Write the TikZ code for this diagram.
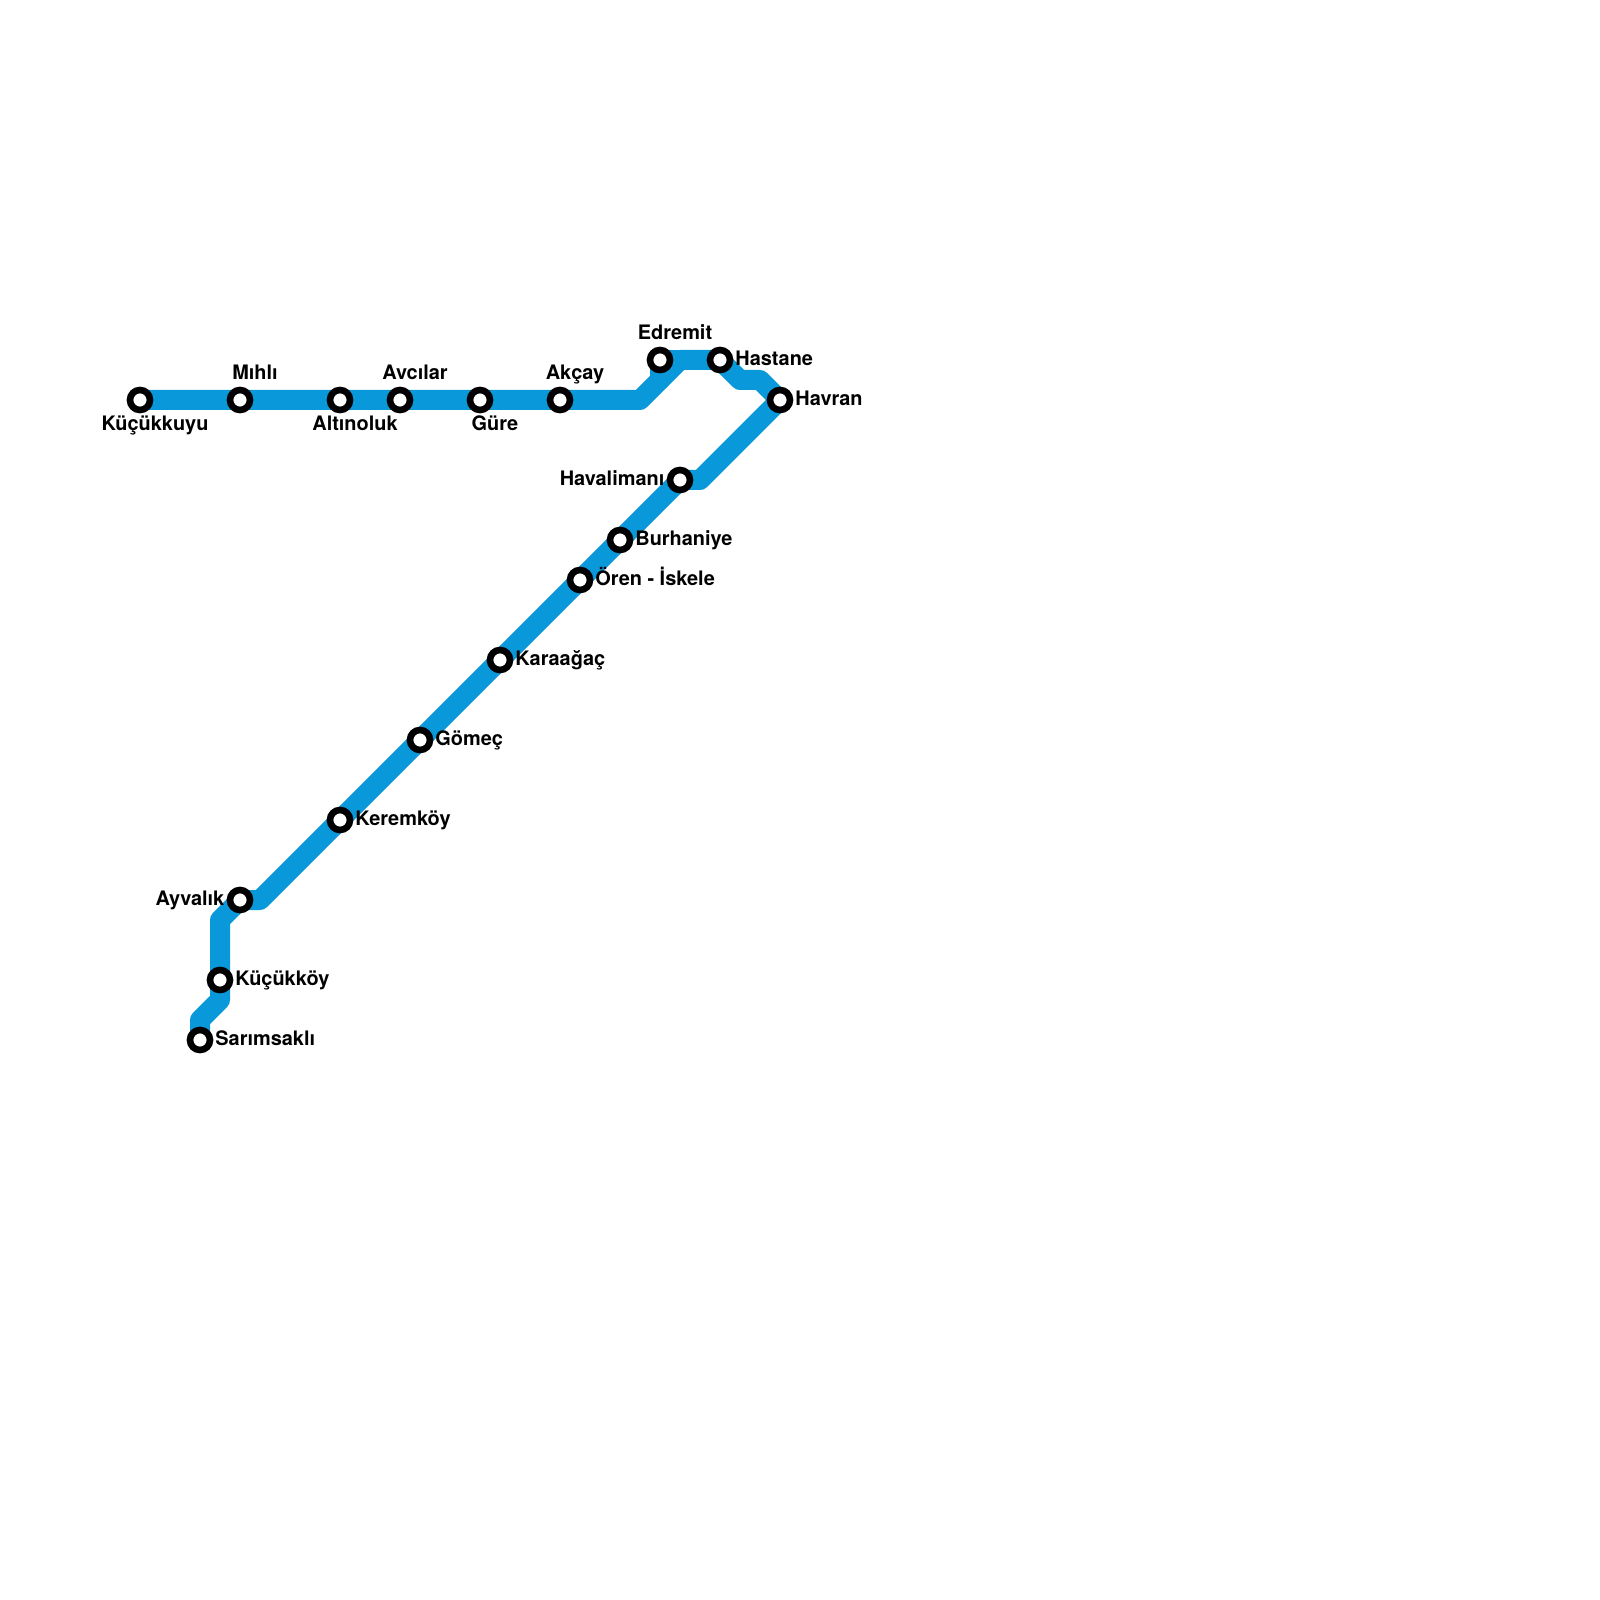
\documentclass[tikz,border=0pt]{standalone}
\usepackage{fontspec}
\setmainfont{TeX Gyre Heros}
\usepackage{xcolor}
\usepackage{tikz}
\usetikzlibrary{positioning}
\definecolor{LineBlue}{RGB}{9,152,217}

\begin{document}
\begin{tikzpicture}[
 station/.style={circle, draw=black, fill=white, line width=0.066cm, minimum size=0.2cm, inner sep=0pt, outer sep=0pt},
 railway/.style={draw=LineBlue, line width=0.2cm, line join=round, line cap=round},
 stopname/.style={font=\bfseries\fontsize{5.67pt}{6.5pt}\selectfont, inner sep=0pt, text height=0.13cm, text depth=0.04cm},
 toright/.style={stopname, anchor=west, xshift=0.147cm, yshift=-0.01cm},
 toleft/.style={stopname, anchor=east, xshift=-0.15cm, yshift=-0.01cm},
 toabove/.style={stopname, xshift=0.15cm, yshift=0.25cm},
 tobelow/.style={stopname, xshift=0.15cm, yshift=-0.26cm}
]
\useasboundingbox (0,0) rectangle (16,-16);
% bends of the line
\coordinate (b1) at (6.4,-4.0);
\coordinate (b2) at (6.8,-3.6);
\coordinate (b3) at (6.6,-3.8);
\coordinate (b4) at (7.4,-3.8);
\coordinate (b5) at (7.6,-3.8);
\coordinate (b6) at (7.0,-4.8);
\coordinate (b7) at (2.6,-9.0);
\coordinate (b8) at (2.2,-9.2);
\coordinate (b9) at (2.2,-10.0);
\coordinate (b10) at (2.0,-10.2);

\coordinate (kucukkuyu) at (1.4,-4.0);
\coordinate (mihli) at (2.4,-4.0);
\coordinate (altinoluk) at (3.4,-4.0);
\coordinate (avcilar) at (4.0,-4.0);
\coordinate (gure) at (4.8,-4.0);
\coordinate (akcay) at (5.6,-4.0);
\coordinate (edremit) at (6.6,-3.6);
\coordinate (hastane) at (7.2,-3.6);
\coordinate (havran) at (7.8,-4.0);
\coordinate (havalimani) at (6.8,-4.8);
\coordinate (burhaniye) at (6.2,-5.4);
\coordinate (oren) at (5.8,-5.8);
\coordinate (karaagac) at (5.0,-6.6);
\coordinate (gomec) at (4.2,-7.4);
\coordinate (keremkoy) at (3.4,-8.2);
\coordinate (ayvalik) at (2.4,-9.0);
\coordinate (kucukkoy) at (2.2,-9.8);
\coordinate (sarimsakli) at (2.0,-10.4);

\draw[railway] (kucukkuyu) -- (b1) -- (b2) -- (hastane) -- (b4) -- (b5) -- (havran) -- (b6) -- (havalimani) -- (b7) -- (ayvalik) -- (b8) -- (b9) -- (b10) -- (sarimsakli);
\draw[railway] (b3) -- (edremit) -- (b2);

\foreach \stop in {kucukkuyu,mihli,altinoluk,avcilar,gure,akcay,edremit,hastane,havran,havalimani,burhaniye,oren,karaagac,gomec,keremkoy,ayvalik,kucukkoy,sarimsakli} {
 \node[station] (\stop-s) at (\stop) {};
}

\node[tobelow] (kucukkuyu-l) at (kucukkuyu) {Küçükkuyu};
\node[toabove] (mihli-l) at (mihli) {Mıhlı};
\node[tobelow] (altinoluk-l) at (altinoluk) {Altınoluk};
\node[toabove] (avcilar-l) at (avcilar) {Avcılar};
\node[tobelow] (gure-l) at (gure) {Güre};
\node[toabove] (akcay-l) at (akcay) {Akçay};
\node[toabove] (edremit-l) at (edremit) {Edremit};
\node[toright] (hastane-l) at (hastane) {Hastane};
\node[toright] (havran-l) at (havran) {Havran};
\node[toleft] (havalimani-l) at (havalimani) {Havalimanı};
\node[toright] (burhaniye-l) at (burhaniye) {Burhaniye};
\node[toright] (oren-l) at (oren) {Ören - İskele};
\node[toright] (karaagac-l) at (karaagac) {Karaağaç};
\node[toright] (gomec-l) at (gomec) {Gömeç};
\node[toright] (keremkoy-l) at (keremkoy) {Keremköy};
\node[toleft] (ayvalik-l) at (ayvalik) {Ayvalık};
\node[toright] (kucukkoy-l) at (kucukkoy) {Küçükköy};
\node[toright] (sarimsakli-l) at (sarimsakli) {Sarımsaklı};
\end{tikzpicture}
\end{document}
